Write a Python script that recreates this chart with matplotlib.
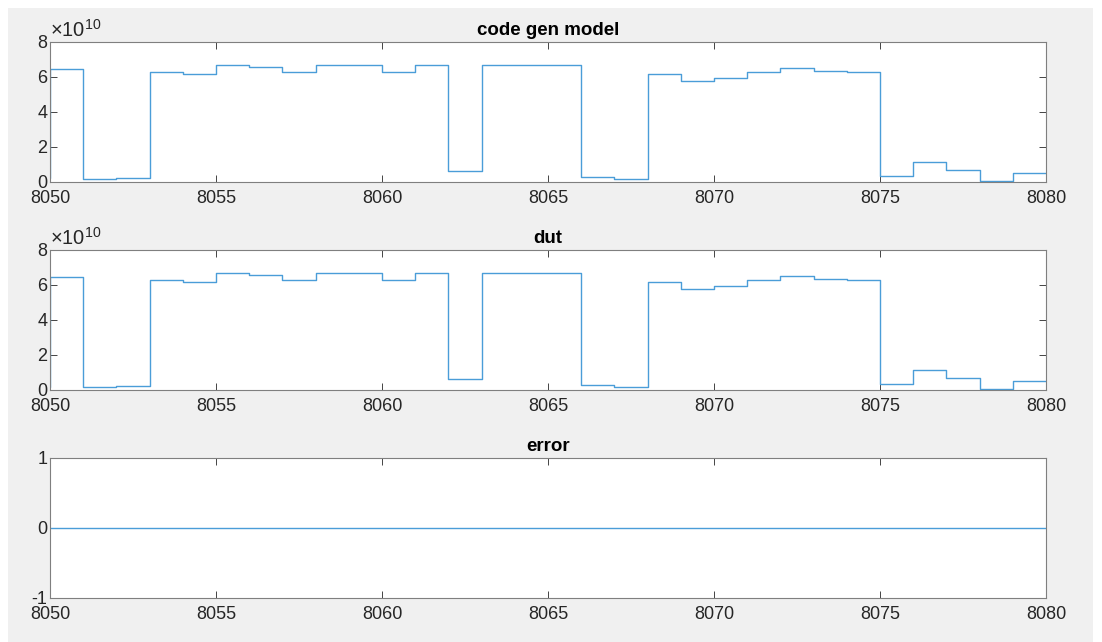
import numpy as np
import matplotlib
matplotlib.use("Agg")
import matplotlib.pyplot as plt
from matplotlib.patches import Rectangle
from matplotlib.ticker import FuncFormatter

plt.rcParams['font.family'] = ['Liberation Sans', 'DejaVu Sans']
plt.rcParams['mathtext.fontset'] = 'custom'
plt.rcParams['mathtext.rm'] = 'Liberation Sans'
plt.rcParams['axes.unicode_minus'] = False

# sample index (stairs, value holds from x[i] to x[i+1])
x = np.arange(8049, 8081)
# code gen model output (units of 1e10)
model_vals = [0.20,
              6.44, 0.19, 0.23, 6.29, 6.15, 6.67, 6.55, 6.30, 6.70, 6.70,
              6.27, 6.70, 0.61, 6.70, 6.70, 6.70, 0.29, 0.19, 6.15, 5.79,
              5.94, 6.30, 6.53, 6.32, 6.29, 0.36, 1.12, 0.67, 0.08, 0.50,
              0.50]
dut_vals = list(model_vals)
model = np.array(model_vals) * 1e10
dut = np.array(dut_vals) * 1e10
error = dut - model

titles = ['code gen model', 'dut', 'error']
xticks = [8050, 8055, 8060, 8065, 8070, 8075, 8080]

W, H = 1102, 642
fig = plt.figure(figsize=(W / 100, H / 100), dpi=100, facecolor='white')
fig.patches.append(Rectangle((8 / W, 0), (1093 - 8) / W, (H - 8) / H,
                             transform=fig.transFigure, facecolor='#f0f0f0',
                             edgecolor='none', zorder=-10))

line_color = '#4a9dd8'
tick_color = '#262626'
spine_color = '#7f7f7f'

def make_ax(top, bottom):
    left, right = 50, 1046
    return fig.add_axes([left / W, 1 - bottom / H, (right - left) / W, (bottom - top) / H])

axes = [make_ax(42, 182), make_ax(250, 390), make_ax(458, 598)]
series = [model, dut, error]

for i, (ax, y, t) in enumerate(zip(axes, series, titles)):
    ax.step(x, y, where='post', color=line_color, lw=1.0)
    ax.set_xlim(8050, 8080)
    ax.set_xticks(xticks)
    ax.set_title(t, fontsize=13.5, fontweight='bold', pad=5, color='black')
    if i < 2:
        ax.set_ylim(0, 8e10)
        ax.set_yticks([0, 2e10, 4e10, 6e10, 8e10])
        ax.yaxis.set_major_formatter(FuncFormatter(lambda v, p: f"{v / 1e10:g}"))
        ax.text(0.0, 1.005, r'$\times10^{10}$', transform=ax.transAxes,
                fontsize=14.5, color=tick_color, ha='left', va='bottom')
    else:
        ax.set_ylim(-1, 1)
        ax.set_yticks([-1, 0, 1])
    ax.tick_params(direction='in', top=True, right=True, length=5, width=0.6,
                   colors=tick_color, labelsize=13)
    ax.tick_params(axis='x', pad=6)
    ax.tick_params(axis='y', pad=2)
    for s in ax.spines.values():
        s.set_color(spine_color)
        s.set_linewidth(0.8)

fig.savefig('out.png', dpi=100, facecolor=fig.get_facecolor())
